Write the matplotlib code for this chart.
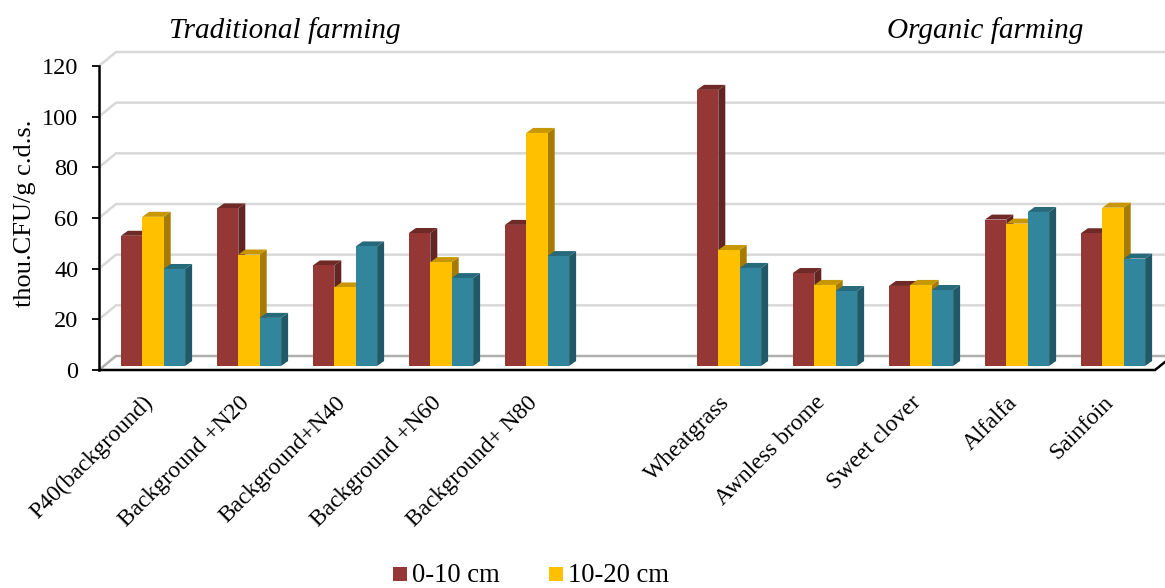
import matplotlib
matplotlib.use('Agg')
from matplotlib import pyplot as plt
from matplotlib.patches import Polygon

categories = ['P40(background)', 'Background +N20', 'Background+N40', 'Background +N60',
              'Background+ N80', '', 'Wheatgrass', 'Awnless brome', 'Sweet clover',
              'Alfalfa', 'Sainfoin']
shallow = [51.4, 62.2, 39.7, 52.5, 55.7, None, 109, 36.7, 31.6, 57.8, 52.4]
middle = [58.9, 44, 31, 41, 92, None, 45.8, 32, 32, 56.2, 62.5]
deep = [38.3, 19, 47.2, 34.7, 43.4, None, 38.7, 29.6, 30, 60.8, 42.4]
yticks = [0, 20, 40, 60, 80, 100, 120]

series = [(shallow, '#953735', '#632523', '#6f2a28'),
          (middle, '#ffc000', '#a67c00', '#c79600'),
          (deep, '#31859c', '#215968', '#266a7c')]

plt.rcParams['font.family'] = ['Liberation Serif', 'DejaVu Serif']

W, H = 1165, 588
fig = plt.figure(figsize=(W / 100, H / 100), dpi=100)
ax = fig.add_axes([99 / W, 1 - 370 / H, 1056 / W, 304 / H])
ax.set_xlim(-0.5, 10.5)
ax.set_ylim(0, 120)

# pixel sizes expressed in data units
px_x = 11 / 1056
px_y = 120 / 304

# back wall and floor of the 3D box
wall_dx, wall_dy = 17 * px_x, 14 * px_y
for t in yticks:
    c = '#b0b0b0' if t == 0 else '#d9d9d9'
    ax.plot([-0.5, -0.5 + wall_dx, 10.5 + 10 * px_x], [t, t + wall_dy, t + wall_dy],
            color=c, lw=1.8, clip_on=False, zorder=1, solid_joinstyle='miter')

# bars with top and side faces
bar_w = 21.4 * px_x
depth_x, depth_y = 7 * px_x, 5 * px_y
base = 4 * px_y
shift = 6 * px_x
for k, (vals, front, side, top) in enumerate(series):
    for i, v in enumerate(vals):
        if v is None:
            continue
        x0 = i + shift + (k - 1.5) * bar_w
        x1 = x0 + bar_w
        y1 = base + v
        z = 3 + i * 3 + k
        ax.bar(x0, v, width=bar_w, bottom=base, align='edge', color=front, zorder=z + 0.5, clip_on=False)
        ax.add_patch(Polygon([(x1, base), (x1 + depth_x, base + depth_y), (x1 + depth_x, y1 + depth_y), (x1, y1)],
                             closed=True, fc=side, ec='none', zorder=z, clip_on=False))
        ax.add_patch(Polygon([(x0, y1), (x0 + depth_x, y1 + depth_y), (x1 + depth_x, y1 + depth_y), (x1, y1)],
                             closed=True, fc=top, ec='none', zorder=z, clip_on=False))

# front edge of the floor, turning back at the right end
ax.plot([-0.5, 10.5, 10.5 + 10 * px_x], [0, 0, 8 * px_y], color='black', lw=1.8,
        clip_on=False, zorder=60, solid_joinstyle='miter')

for s in ['top', 'right', 'bottom']:
    ax.spines[s].set_visible(False)
ax.spines['left'].set_linewidth(1.8)
ax.spines['left'].set_zorder(60)
ax.patch.set_alpha(0)

ax.set_yticks(yticks)
ax.tick_params(axis='y', labelsize=17.5, length=5, width=1.3, pad=10)
ax.set_xticks([i - 0.044 for i, c in enumerate(categories) if c])
ax.set_xticklabels([c for c in categories if c], rotation=45, ha='right', va='top',
                   rotation_mode='anchor', fontsize=17)
ax.tick_params(axis='x', length=0, pad=16)

fig.text(25 / W, 1 - 213 / H, 'thou.CFU/g c.d.s.', rotation=90, fontsize=19,
         ha='center', va='center')
fig.text(285 / W, 1 - 31 / H, 'Traditional farming', style='italic', fontsize=21.1,
         ha='center', va='center')
fig.text(985 / W, 1 - 31 / H, 'Organic farming', style='italic', fontsize=21.1,
         ha='center', va='center')

# legend, placed by hand because the third entry falls off the canvas
for lx, lc, label in [(393, '#953735', '0-10 cm'), (549, '#ffc000', '10-20 cm')]:
    fig.patches.append(plt.Rectangle((lx / W, 1 - 581 / H), 14 / W, 14 / H,
                                     transform=fig.transFigure, fc=lc, ec='none'))
    fig.text((lx + 19.5) / W, 1 - 581.5 / H, label, fontsize=19.2, ha='left', va='baseline')

fig.savefig('out.png', dpi=100)
